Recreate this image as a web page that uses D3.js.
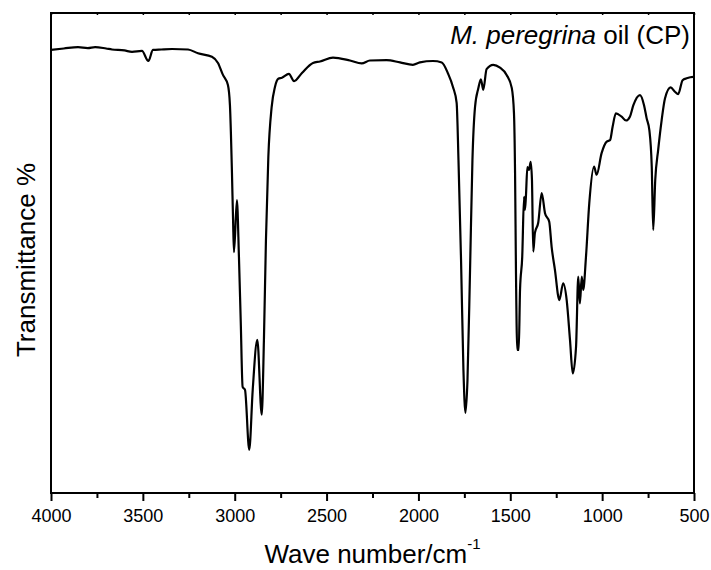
<!DOCTYPE html>
<html>
<head>
<meta charset="utf-8">
<script src="https://cdn.jsdelivr.net/npm/d3@7"></script>
<style>
  html, body { margin: 0; padding: 0; background: #fff; }
  svg { display: block; font-family: "Liberation Sans", Arial, sans-serif; }
</style>
</head>
<body>
<svg id="chart" width="711" height="570"></svg>
<script>
// Wavenumbers (cm^-1) and transmittance (arbitrary %)
const wavenumber = [4000,3930,3853,3800,3760,3700,3668,3600,3559,3505,3470,3445,3400,3341,3254,3200,3124,3091,3064,3037,3026,3015,3009,3004,2988,2977,2967,2957,2944,2921,2902,2877,2853,2841,2830,2817,2799,2781,2763,2743,2705,2677,2634,2574,2536,2465,2373,2309,2264,2173,2100,2030,1992,1921,1873,1839,1812,1792,1782,1768,1755,1744,1733,1719,1706,1692,1674,1660,1647,1629,1593,1556,1520,1492,1480,1474,1469,1462,1454,1447,1435,1425,1420,1415,1407,1398,1389,1382,1375,1366,1348,1329,1311,1288,1275,1257,1233,1212,1193,1175,1160,1142,1130,1121,1111,1103,1088,1070,1044,1030,1003,975,957,943,925,894,870,849,830,794,772,758,743,730,722,711,695,676,658,627,604,586,562,540,504,500];
const transmittance = [92.3,92.6,92.9,92.7,92.9,92.6,92.4,92.2,91.9,92.1,90.0,92.3,92.4,92.5,92.4,91.6,90.9,89.6,87.1,85.0,80.8,66.7,56.9,50.2,61.0,49.2,35.4,22.1,21.5,9.0,21.5,31.9,16.3,31.9,52.7,70.0,80.4,84.6,86.3,86.5,87.3,85.8,87.5,89.6,89.9,90.7,90.1,89.5,90.1,90.2,89.7,89.2,89.7,90.0,89.7,87.4,84.6,81.3,69.4,48.5,25.6,16.7,23.5,46.5,69.4,80.4,84.3,86.2,84.0,88.3,89.2,88.6,87.1,84.4,79.2,66.7,45.8,29.8,29.8,42.3,49.2,61.7,59.0,61.7,67.9,67.3,69.0,65.2,50.3,54.2,56.3,62.5,58.3,56.5,51.3,46.5,40.2,43.7,40.2,31.9,24.9,30.5,45.1,39.5,45.1,42.3,49.2,60.4,68.0,66.3,70.8,73.2,73.5,76.3,79.1,78.4,77.6,78.4,80.8,82.9,80.8,78.1,75.6,68.0,54.8,65.2,71.5,77.7,82.2,84.5,83.6,83.1,86.0,86.4,86.7,86.7];
const majorTicks = [4000,3500,3000,2500,2000,1500,1000,500];
const minorTicks = [3750,3250,2750,2250,1750,1250,750];
const xTitle = "Wave number/cm";
const xTitleSup = "-1";
const yTitle = "Transmittance %";
const legendItalic = "M. peregrina";
const legendRest = " oil (CP)";

const svg = d3.select("#chart");
const L = 51, R = 694, T = 13, B = 493;

const x = d3.scaleLinear().domain([4000, 500]).range([L, R]);
const y = d3.scaleLinear().domain([0, 100]).range([B, T]);

const data = wavenumber.map((w, i) => ({w, t: transmittance[i]}));

// frame
svg.append("rect").attr("x", L).attr("y", T).attr("width", R - L).attr("height", B - T)
  .attr("fill", "none").attr("stroke", "#000").attr("stroke-width", 2);

// bottom axis
const gx = svg.append("g").attr("transform", `translate(0,${B})`);
gx.call(d3.axisBottom(x).tickValues(majorTicks).tickFormat(d3.format("d")).tickSize(8).tickPadding(8));
gx.select(".domain").remove();
gx.selectAll(".tick line").attr("stroke", "#000").attr("stroke-width", 2);
gx.selectAll(".tick text").attr("font-size", 18).attr("fill", "#000").attr("font-family", "Liberation Sans, Arial, sans-serif");
const gxm = svg.append("g").attr("transform", `translate(0,${B})`);
gxm.call(d3.axisBottom(x).tickValues(minorTicks).tickFormat("").tickSize(5));
gxm.select(".domain").remove();
gxm.selectAll(".tick line").attr("stroke", "#000").attr("stroke-width", 2);

// top small inner ticks
const gt = svg.append("g").attr("transform", `translate(0,${T})`);
gt.call(d3.axisBottom(x).tickValues(majorTicks.concat(minorTicks)).tickFormat("").tickSize(2));
gt.select(".domain").remove();
gt.selectAll(".tick line").attr("stroke", "#000").attr("stroke-width", 1.5);

// curve
const line = d3.line().x(d => x(d.w)).y(d => y(d.t)).curve(d3.curveMonotoneX);
svg.append("path").datum(data).attr("d", line)
  .attr("fill", "none").attr("stroke", "#000").attr("stroke-width", 2.2).attr("stroke-linejoin", "round");

// x title
const xt = svg.append("text").attr("x", (L + R) / 2).attr("y", 563).attr("text-anchor", "middle")
  .attr("font-size", 26).attr("fill", "#000");
xt.append("tspan").text(xTitle);
xt.append("tspan").attr("font-size", 15).attr("dy", -14).text(xTitleSup);

// y title
svg.append("text").attr("transform", `translate(35,260) rotate(-90)`)
  .attr("text-anchor", "middle").attr("font-size", 26).attr("fill", "#000").text(yTitle);

// legend label
const lg = svg.append("text").attr("x", 690).attr("y", 44).attr("text-anchor", "end")
  .attr("font-size", 26).attr("fill", "#000");
lg.append("tspan").attr("font-style", "italic").text(legendItalic);
lg.append("tspan").text(legendRest);
</script>
</body>
</html>
